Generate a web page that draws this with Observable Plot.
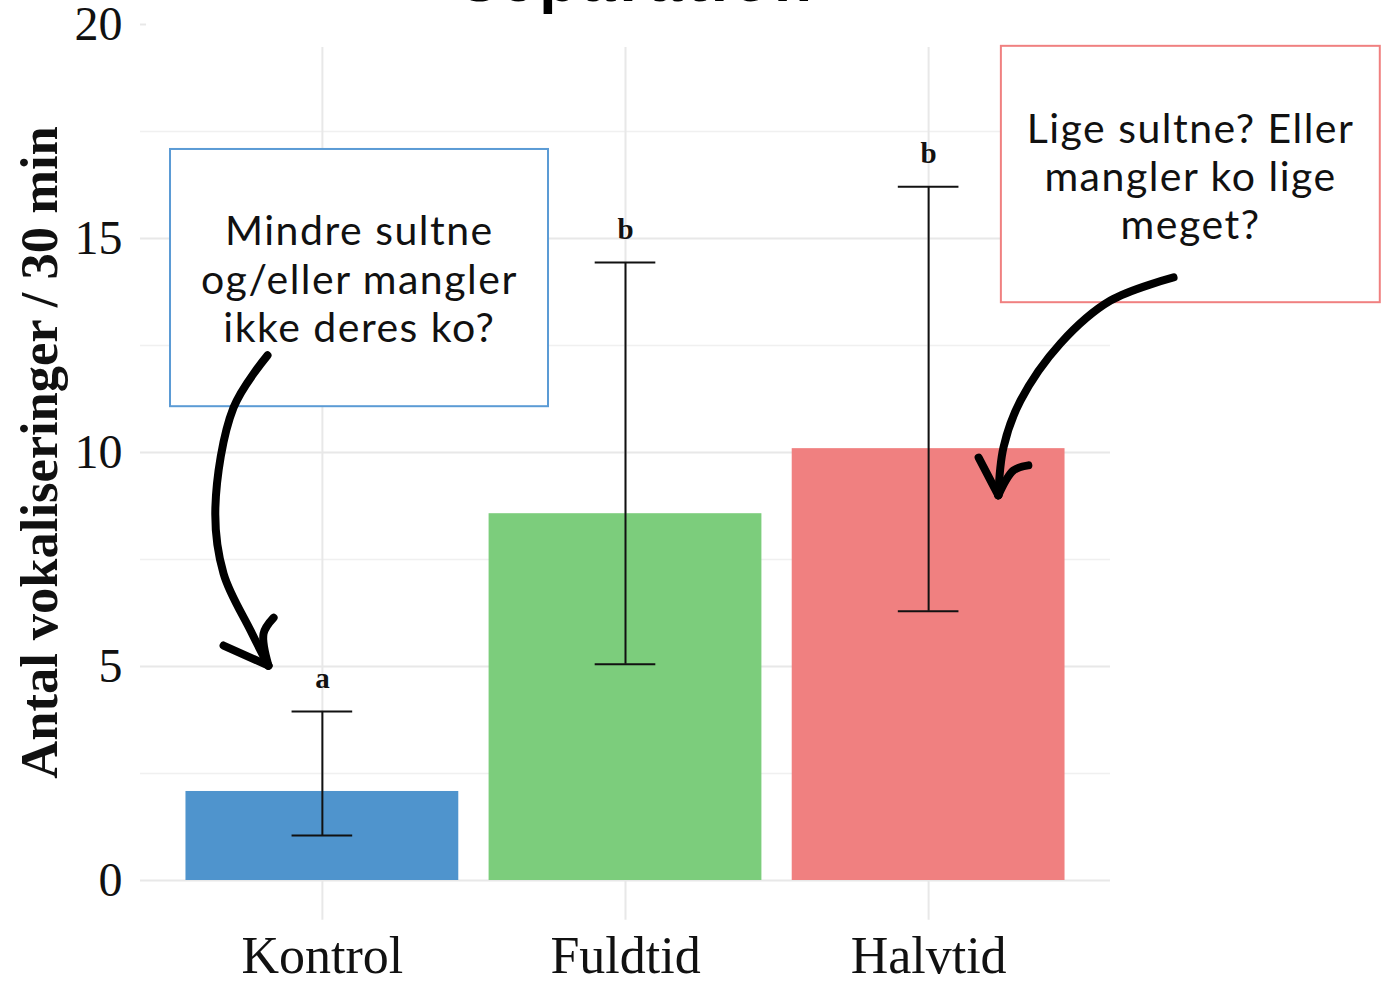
<!DOCTYPE html>
<html>
<head>
<meta charset="utf-8">
<script src="https://cdn.jsdelivr.net/npm/d3@7"></script>
<script src="https://cdn.jsdelivr.net/npm/@observablehq/plot@0.6"></script>
<style>
  html, body { margin: 0; padding: 0; background: #fff; }
  #wrap { position: relative; width: 1391px; height: 982px; overflow: hidden; background: #fff; }
  #title { position: absolute; left: 0; width: 1278px; top: -51px; text-align: center;
           font-family: "Liberation Sans", Arial, sans-serif; font-weight: bold; font-size: 62px;
           letter-spacing: 4px; line-height: 62px; color: #000; z-index: 2; }
</style>
</head>
<body>
<div id="wrap"><div id="title">separation</div></div>
<script>
// ---- data ----
const categories = ["Kontrol", "Fuldtid", "Halvtid"];
const positions = [1, 2, 3];
const means = [2.08, 8.57, 10.09];
const lower = [1.05, 5.05, 6.29];
const upper = [3.95, 14.44, 16.21];
const letters = ["a", "b", "b"];
const barColors = ["#4F94CD", "#7CCD7C", "#F08080"];
const yTicks = [0, 5, 10, 15, 20];
const yMinor = [2.5, 7.5, 12.5, 17.5];
const yLabel = "Antal vokaliseringer / 30 min";

// ---- annotations (data coordinates) ----
const noteTexts = ["Mindre sultne\nog/eller mangler\nikke deres ko?", "Lige sultne? Eller\nmangler ko lige\nmeget?"];
const noteTextX = [1.122, 3.864];
const noteTextY = [14.07, 16.47];
const noteBoxX1 = [0.499, 3.24];
const noteBoxX2 = [1.746, 4.49];
const noteBoxY1 = [11.07, 13.50];
const noteBoxY2 = [17.08, 19.49];
const noteColors = ["#5B9BD5", "#F08080"];
const arrowLeft = [[0.819, 12.27], [0.707, 11.05], [0.647, 8.71], [0.674, 7.17], [0.763, 5.84], [0.822, 5.02]];
const arrowLeftHeadA = [[0.674, 5.49], [0.822, 5.02]];
const arrowLeftHeadB = [[0.839, 6.14], [0.806, 5.77], [0.822, 5.02]];
const arrowRight = [[3.808, 14.09], [3.600, 13.55], [3.435, 12.55], [3.303, 11.21], [3.247, 10.12], [3.230, 9.0]];
const arrowRightHeadA = [[3.165, 9.88], [3.230, 9.0]];
const arrowRightHeadB = [[3.329, 9.70], [3.280, 9.58], [3.230, 9.0]];

const rows = categories.map((c, i) => ({
  cat: c, pos: positions[i], mean: means[i], lo: lower[i], hi: upper[i], letter: letters[i], color: barColors[i]
}));
const notes = noteTexts.map((t, i) => ({
  text: t, x: noteTextX[i], y: noteTextY[i], x1: noteBoxX1[i], x2: noteBoxX2[i],
  y1: noteBoxY1[i], y2: noteBoxY2[i], color: noteColors[i]
}));

const halfBar = 0.45, halfCap = 0.1;
const serif = "'Liberation Serif', 'Times New Roman', serif";
const roundSans = "Lato, 'Open Sans', sans-serif";
const arrowStyle = {x: d => d[0], y: d => d[1], stroke: "#000", strokeWidth: 8,
  strokeLinecap: "round", strokeLinejoin: "round", curve: "catmull-rom"};

const chart = Plot.plot({
  width: 1391,
  height: 982,
  marginLeft: 140,
  marginRight: 281,
  marginTop: 24,
  marginBottom: 102,
  style: {background: "transparent", overflow: "visible"},
  x: {domain: [0.4, 3.6], axis: null},
  y: {domain: [0, 20], axis: null},
  marks: [
    // grid
    Plot.ruleY(yMinor, {stroke: "#f0f0f0", strokeWidth: 1.6}),
    Plot.ruleY(yTicks.filter(t => t < 20), {stroke: "#e8e8e8", strokeWidth: 2}),
    Plot.ruleY([20], {x1: 0.4, x2: 0.42, stroke: "#e8e8e8", strokeWidth: 2}),
    Plot.ruleX(positions, {y1: -0.93, y2: 19.46, stroke: "#e8e8e8", strokeWidth: 2}),
    // axes
    Plot.axisY({ticks: yTicks, tickSize: 0, tickPadding: 18, fontSize: 48, fontFamily: serif, color: "#111"}),
    Plot.axisX({ticks: positions, tickFormat: i => categories[i - 1], tickSize: 0, tickPadding: 56,
      fontSize: 52, fontFamily: serif, color: "#111"}),
    Plot.text([yLabel], {frameAnchor: "left", dx: -100, rotate: -90, fontSize: 52.5, fontWeight: "bold",
      fontFamily: serif, fill: "#111", textAnchor: "middle", lineAnchor: "middle"}),
    // bars
    Plot.rectY(rows, {x1: d => d.pos - halfBar, x2: d => d.pos + halfBar, y1: 0, y2: "mean", fill: "color"}),
    // error bars
    Plot.ruleX(rows, {x: "pos", y1: "lo", y2: "hi", stroke: "#111", strokeWidth: 2}),
    Plot.ruleY(rows, {y: "lo", x1: d => d.pos - halfCap, x2: d => d.pos + halfCap, stroke: "#111", strokeWidth: 2}),
    Plot.ruleY(rows, {y: "hi", x1: d => d.pos - halfCap, x2: d => d.pos + halfCap, stroke: "#111", strokeWidth: 2}),
    // significance letters
    Plot.text(rows, {x: "pos", y: "hi", text: "letter", dy: -33, fontSize: 29, fontWeight: "bold",
      fontFamily: serif, fill: "#111", lineAnchor: "middle"}),
    // annotation boxes
    Plot.rect(notes, {x1: "x1", x2: "x2", y1: "y1", y2: "y2", fill: "#fff", stroke: "color", strokeWidth: 2}),
    Plot.text(notes, {x: "x", y: "y", text: "text", fontSize: 41, lineHeight: 1.18, fontFamily: roundSans,
      fill: "#111", lineAnchor: "middle"}),
    // arrows
    Plot.line(arrowLeft, arrowStyle),
    Plot.line(arrowLeftHeadA, arrowStyle),
    Plot.line(arrowLeftHeadB, arrowStyle),
    Plot.line(arrowRight, arrowStyle),
    Plot.line(arrowRightHeadA, arrowStyle),
    Plot.line(arrowRightHeadB, arrowStyle)
  ]
});
// widen the annotation lettering a little (the original uses a wide geometric face)
chart.querySelectorAll('g[font-family^="Lato"]').forEach(g => g.setAttribute("letter-spacing", "1.5"));
chart.style.position = "absolute";
chart.style.left = "0";
chart.style.top = "0";
document.getElementById("wrap").appendChild(chart);
</script>
</body>
</html>
